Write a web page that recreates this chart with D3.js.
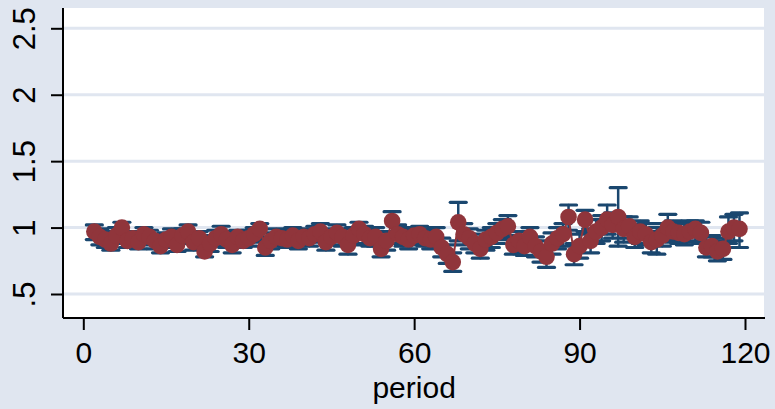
<!DOCTYPE html>
<html>
<head>
<meta charset="utf-8">
<script src="https://cdn.jsdelivr.net/npm/d3@7"></script>
<style>
  html, body { margin: 0; padding: 0; background: #e0e6f0; }
  svg { display: block; }
  text { font-family: "Liberation Sans", Arial, Helvetica, sans-serif; fill: #000; }
</style>
</head>
<body>
<svg id="chart" width="775" height="409"></svg>
<script>
// Period index
const period = [
  2,3,4,5,6,7,8,9,10,11,12,13,14,15,16,17,18,19,20,21,
  22,23,24,25,26,27,28,29,30,31,32,33,34,35,36,37,38,39,40,41,
  42,43,44,45,46,47,48,49,50,51,52,53,54,55,56,57,58,59,60,61,
  62,63,64,65,66,67,68,69,70,71,72,73,74,75,76,77,78,79,80,81,
  82,83,84,85,86,87,88,89,90,91,92,93,94,95,96,97,98,99,100,101,
  102,103,104,105,106,107,108,109,110,111,112,113,114,115,116,117,118,119
];
// Point estimate per period
const estimate = [
  0.97,0.93,0.91,0.88,0.94,1.00,0.90,0.92,0.89,0.95,0.93,0.90,0.86,0.91,0.93,0.87,0.94,0.97,0.89,0.92,
  0.82,0.88,0.92,0.95,0.91,0.87,0.93,0.90,0.92,0.95,0.99,0.85,0.90,0.93,0.92,0.91,0.94,0.90,0.93,0.92,
  0.95,0.97,0.89,0.93,0.96,0.93,0.87,0.94,0.99,0.95,0.92,0.93,0.84,0.90,1.05,0.95,0.93,0.91,0.94,0.95,
  0.92,0.91,0.93,0.85,0.80,0.74,1.04,0.95,0.92,0.88,0.84,0.91,0.93,0.96,0.99,1.01,0.87,0.90,0.86,0.93,
  0.86,0.82,0.78,0.88,0.92,0.95,1.08,0.80,0.86,1.06,0.90,0.97,1.00,1.06,1.02,1.08,0.99,1.01,0.93,0.97,
  0.95,0.89,0.91,0.94,1.00,0.97,0.96,0.95,0.97,0.99,0.96,0.85,0.86,0.82,0.84,0.97,1.00,0.99
];
// Lower confidence bound
const lower = [
  0.91,0.87,0.85,0.83,0.88,0.94,0.85,0.86,0.84,0.89,0.87,0.84,0.81,0.85,0.87,0.82,0.88,0.91,0.83,0.86,
  0.78,0.82,0.86,0.89,0.85,0.81,0.87,0.85,0.86,0.89,0.93,0.79,0.84,0.87,0.86,0.85,0.88,0.84,0.87,0.86,
  0.89,0.91,0.83,0.87,0.90,0.86,0.80,0.87,0.93,0.88,0.86,0.86,0.78,0.83,0.97,0.88,0.86,0.84,0.87,0.88,
  0.86,0.84,0.86,0.78,0.73,0.67,0.90,0.87,0.84,0.81,0.77,0.83,0.85,0.88,0.91,0.93,0.80,0.82,0.79,0.86,
  0.78,0.74,0.70,0.80,0.84,0.86,0.98,0.72,0.77,0.97,0.81,0.88,0.90,0.95,0.92,0.86,0.89,0.92,0.85,0.88,
  0.87,0.81,0.80,0.86,0.91,0.89,0.88,0.87,0.89,0.90,0.88,0.78,0.78,0.75,0.76,0.88,0.90,0.85
];
// Upper confidence bound
const upper = [
  1.02,0.99,0.97,0.94,1.00,1.04,0.96,0.97,0.95,1.00,0.98,0.95,0.92,0.96,0.99,0.93,0.99,1.02,0.95,0.97,
  0.88,0.94,0.98,1.01,0.97,0.93,0.98,0.96,0.98,1.00,1.03,0.91,0.96,0.99,0.98,0.97,1.00,0.96,0.99,0.98,
  1.01,1.03,0.95,0.99,1.02,0.99,0.93,1.00,1.04,1.01,0.99,1.00,0.91,0.97,1.12,1.02,1.00,0.98,1.00,1.01,
  0.99,0.97,1.00,0.92,0.87,0.81,1.19,1.03,0.99,0.95,0.91,0.98,1.00,1.03,1.06,1.09,0.94,0.97,0.93,1.00,
  0.93,0.90,0.86,0.96,1.00,1.03,1.17,0.88,0.95,1.13,0.99,1.06,1.09,1.17,1.11,1.30,1.08,1.08,1.02,1.05,
  1.03,0.97,1.00,1.03,1.10,1.05,1.04,1.03,1.05,1.05,1.04,0.93,0.94,0.90,0.92,1.08,1.10,1.11
];
// Axis ticks
const xTicks = [0, 30, 60, 90, 120];
const xTickLabels = ["0", "30", "60", "90", "120"];
const yTicks = [0.5, 1, 1.5, 2, 2.5];
const yTickLabels = [".5", "1", "1.5", "2", "2.5"];
const xTitle = "period";

const rows = period.map((p, i) => ({ p, est: estimate[i], lo: lower[i], hi: upper[i] }));

const svg = d3.select("#chart");
const W = 775, H = 409;
const plot = { left: 63, right: 764, top: 8, bottom: 318 };

const x = d3.scaleLinear().domain([0, 120]).range([83.3, 745]);
const y = d3.scaleLinear().domain([0.5, 2.5]).range([294, 28.3]);

// Graph region background
svg.append("rect").attr("width", W).attr("height", H).attr("fill", "#e0e6f0");
// Plot region
svg.append("rect")
  .attr("x", plot.left).attr("y", plot.top)
  .attr("width", plot.right - plot.left).attr("height", plot.bottom - plot.top)
  .attr("fill", "#ffffff");

// Horizontal grid lines
svg.append("g").selectAll("line").data(yTicks).join("line")
  .attr("x1", plot.left).attr("x2", plot.right)
  .attr("y1", d => y(d)).attr("y2", d => y(d))
  .attr("stroke", "#e0e6f0").attr("stroke-width", 3);

// Confidence interval caps (range with caps)
const ci = svg.append("g")
  .attr("stroke", "#1a476f").attr("fill", "none").attr("stroke-linecap", "round");
ci.selectAll("line.bar").data(rows).join("line").attr("class", "bar")
  .attr("x1", d => x(d.p)).attr("x2", d => x(d.p))
  .attr("y1", d => y(d.lo)).attr("y2", d => y(d.hi))
  .attr("stroke-width", 2.5);
ci.selectAll("line.capHi").data(rows).join("line").attr("class", "capHi")
  .attr("x1", d => x(d.p) - 8).attr("x2", d => x(d.p) + 8)
  .attr("y1", d => y(d.hi)).attr("y2", d => y(d.hi))
  .attr("stroke-width", 3.2);
ci.selectAll("line.capLo").data(rows).join("line").attr("class", "capLo")
  .attr("x1", d => x(d.p) - 8).attr("x2", d => x(d.p) + 8)
  .attr("y1", d => y(d.lo)).attr("y2", d => y(d.lo))
  .attr("stroke-width", 3.2);

// Connected point estimates
const line = d3.line().x(d => x(d.p)).y(d => y(d.est));
svg.append("path").datum(rows)
  .attr("d", line)
  .attr("fill", "none").attr("stroke", "#90353b").attr("stroke-width", 2);
svg.append("g").selectAll("circle").data(rows).join("circle")
  .attr("cx", d => x(d.p)).attr("cy", d => y(d.est)).attr("r", 8.3)
  .attr("fill", "#90353b");

// Y axis
const yAxis = d3.axisLeft(y).tickValues(yTicks).tickSize(12)
  .tickFormat((d, i) => yTickLabels[i]);
const gy = svg.append("g").attr("transform", `translate(${plot.left},0)`).call(yAxis);
gy.select(".domain").attr("d", `M0,${plot.top}V${plot.bottom}`).attr("stroke", "#000").attr("stroke-width", 2);
gy.selectAll(".tick line").attr("stroke", "#000").attr("stroke-width", 2);
gy.selectAll(".tick text")
  .attr("font-size", 31).attr("font-family", "Liberation Sans, Arial, sans-serif")
  .attr("x", 0).attr("y", 0).attr("dy", 0)
  .attr("text-anchor", "middle")
  .attr("transform", "translate(-28,0) rotate(-90)");

// X axis
const xAxis = d3.axisBottom(x).tickValues(xTicks).tickSize(12)
  .tickFormat((d, i) => xTickLabels[i]);
const gx = svg.append("g").attr("transform", `translate(0,${plot.bottom})`).call(xAxis);
gx.select(".domain").attr("d", `M${plot.left},0H${plot.right + 1}`).attr("stroke", "#000").attr("stroke-width", 2);
gx.selectAll(".tick line").attr("stroke", "#000").attr("stroke-width", 2);
gx.selectAll(".tick text")
  .attr("font-size", 30).attr("font-family", "Liberation Sans, Arial, sans-serif")
  .attr("y", 45).attr("dy", 0);

// X axis title
svg.append("text")
  .attr("x", (x(0) + x(120)) / 2).attr("y", 398)
  .attr("text-anchor", "middle").attr("font-size", 30)
  .text(xTitle);
</script>
</body>
</html>
